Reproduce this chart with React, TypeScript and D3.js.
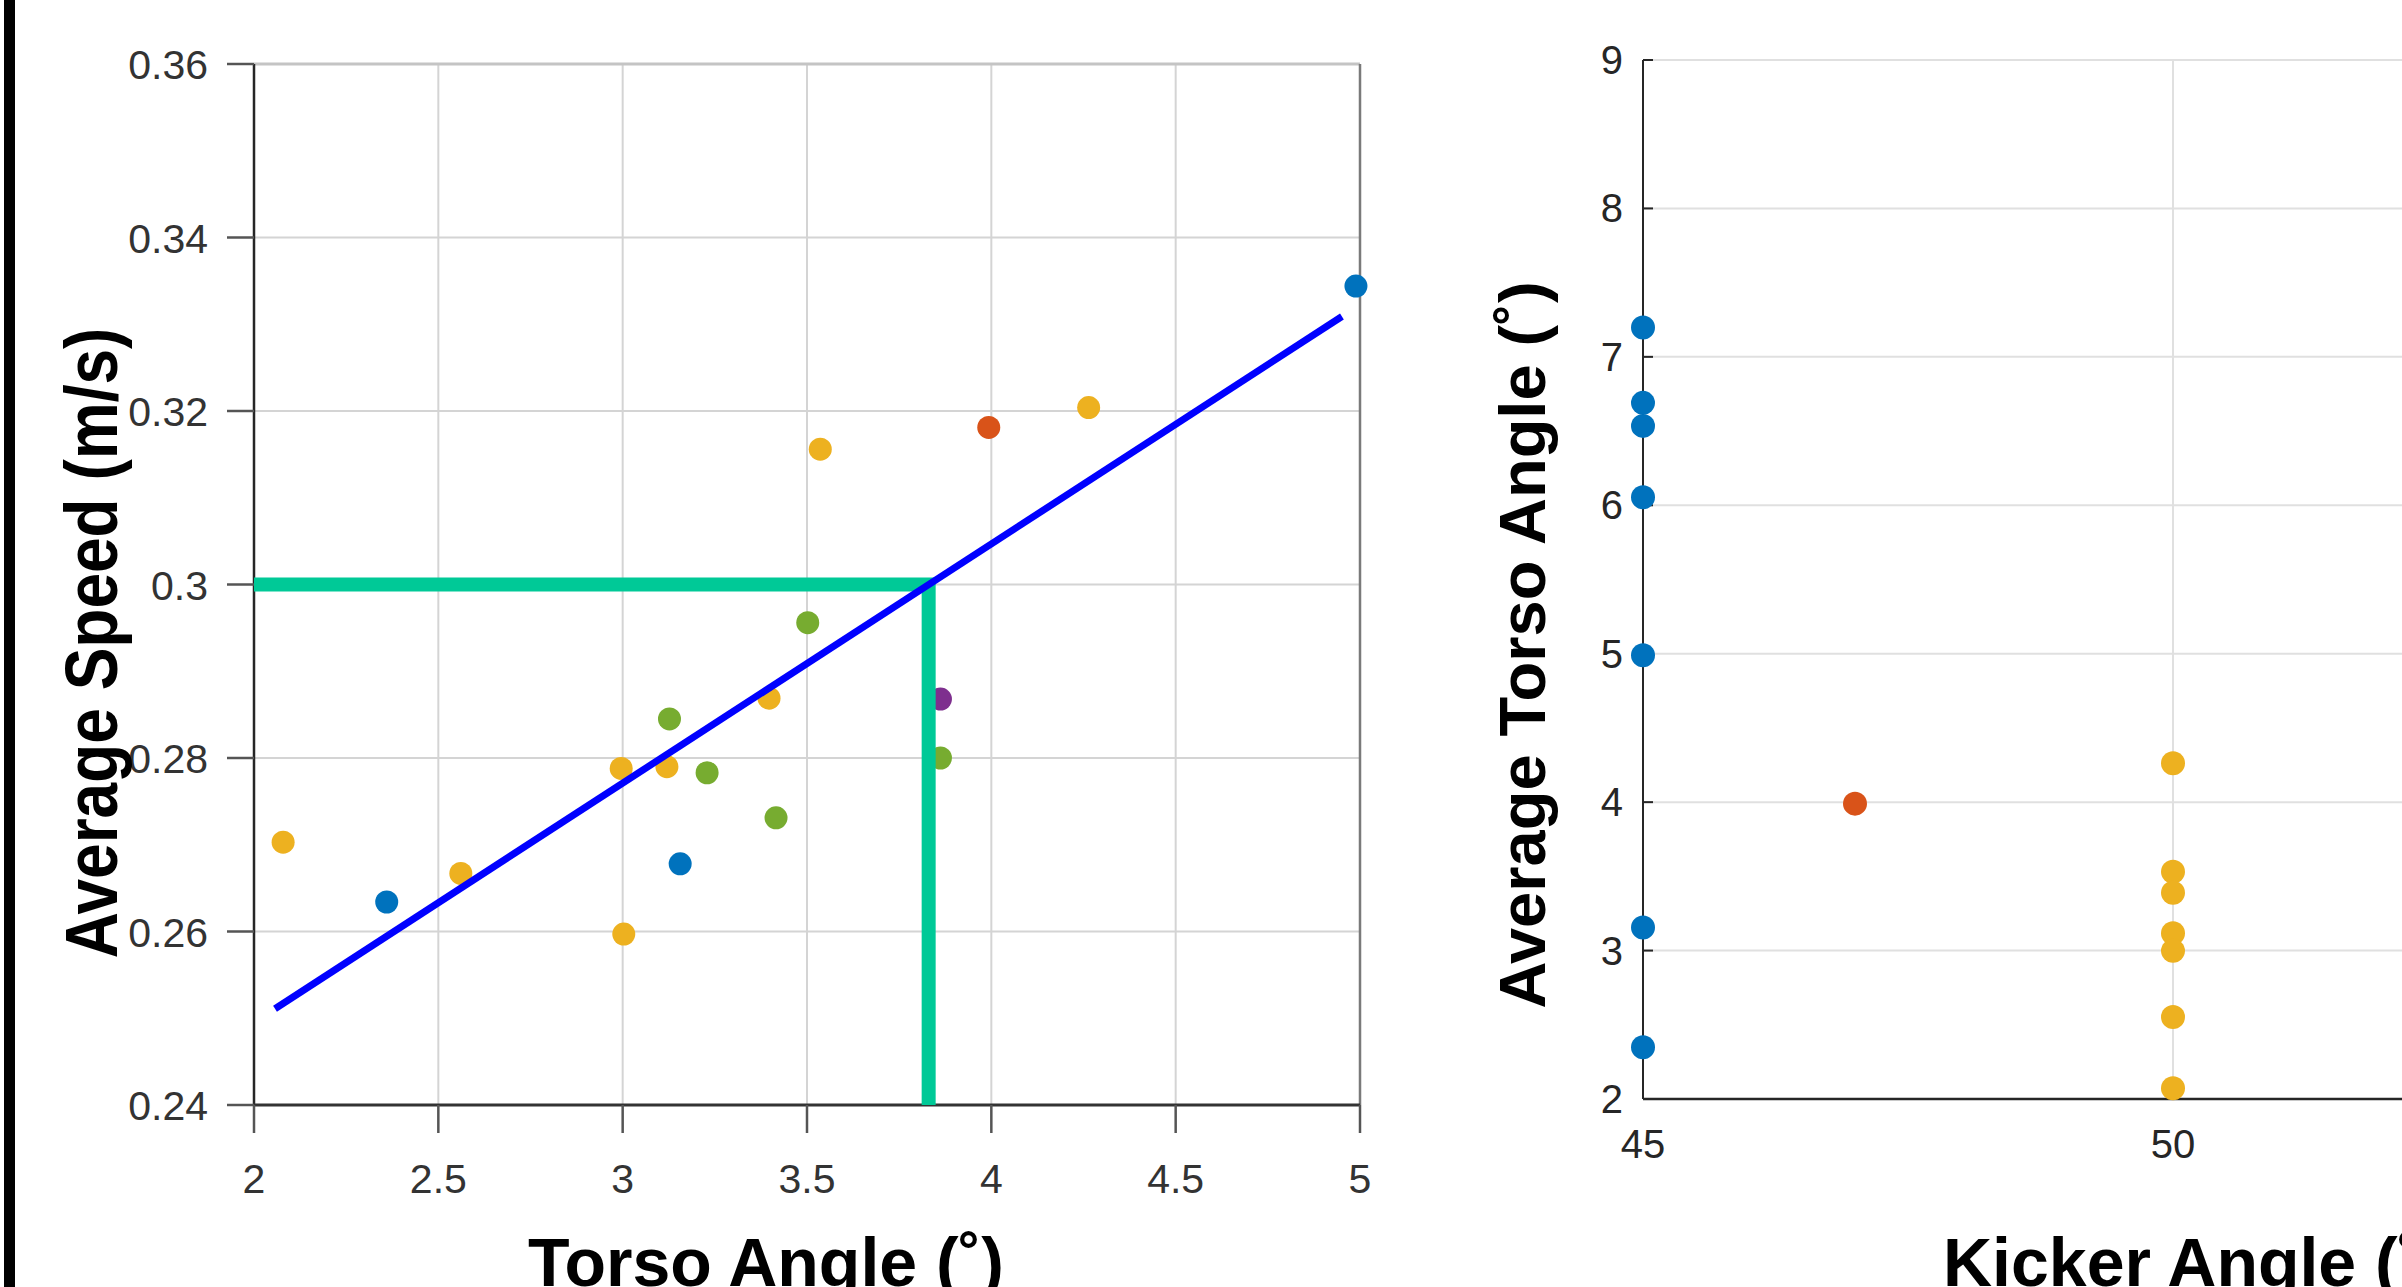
import { useEffect, useRef } from 'react';
import * as d3 from 'd3';

// left panel: torso angle (deg) vs average speed (m/s), colour = kicker group
const torsoAngle = [2.079, 2.36, 2.561, 2.996, 3.003, 3.12, 3.127, 3.156, 3.229, 3.397, 3.416, 3.502, 3.536, 3.862, 3.862, 3.993, 4.264, 4.989];
const avgSpeed = [0.2703, 0.2634, 0.2667, 0.2788, 0.2597, 0.279, 0.2845, 0.2678, 0.2783, 0.2869, 0.2731, 0.2956, 0.3156, 0.2868, 0.28, 0.3181, 0.3204, 0.3344];
const speedGroup = [2, 0, 2, 2, 2, 2, 4, 0, 4, 2, 4, 4, 2, 3, 4, 1, 2, 0];

// linear fit drawn over the left panel
const fitTorso = [2.057, 4.951];
const fitSpeed = [0.2511, 0.3309];

// target speed and the torso angle that gives it
const targetSpeed = 0.3;
const targetTorso = 3.83;

// right panel: kicker angle (deg) vs average torso angle (deg)
const kickerAngle = [45, 45, 45, 45, 45, 45, 45, 47, 50, 50, 50, 50, 50, 50, 50];
const avgTorso = [7.198, 6.69, 6.535, 6.054, 4.989, 3.155, 2.348, 3.99, 4.262, 3.531, 3.389, 3.117, 2.998, 2.553, 2.073];
const kickerGroup = [0, 0, 0, 0, 0, 0, 0, 1, 2, 2, 2, 2, 2, 2, 2];

const speedTicks = [0.24, 0.26, 0.28, 0.3, 0.32, 0.34, 0.36];
const torsoTicks = [2, 2.5, 3, 3.5, 4, 4.5, 5];
const avgTorsoTicks = [2, 3, 4, 5, 6, 7, 8, 9];
const kickerTicks = [45, 50, 55];

const groupColors = ['#0072BD', '#D95319', '#EDB120', '#7E2F8E', '#77AC30'];

const W = 2402;
const H = 1287;
const tickFont = '"Liberation Sans", Arial, Helvetica, sans-serif';
const titleFont = '"Liberation Sans", Arial, sans-serif';

export default function App() {
  const ref = useRef<SVGSVGElement>(null);

  useEffect(() => {
    const svg = d3.select(ref.current);
    svg.selectAll('*').remove();

    svg.append('rect').attr('width', W).attr('height', H).attr('fill', 'white');
    // black strip on the left edge
    svg.append('rect').attr('x', 4).attr('y', 0).attr('width', 11).attr('height', H).attr('fill', 'black');

    const color = d3.scaleOrdinal<number, string>().domain([0, 1, 2, 3, 4]).range(groupColors);

    // ---------- left panel ----------
    const x1 = d3.scaleLinear().domain([2, 5]).range([254, 1360]);
    const y1 = d3.scaleLinear().domain([0.24, 0.36]).range([1105, 64]);
    const g1 = svg.append('g');

    // grid
    g1.selectAll('line.vg')
      .data(torsoTicks.slice(1, -1))
      .enter().append('line')
      .attr('x1', d => x1(d)).attr('x2', d => x1(d))
      .attr('y1', y1(0.36)).attr('y2', y1(0.24))
      .attr('stroke', '#d4d4d4').attr('stroke-width', 2);
    g1.selectAll('line.hg')
      .data(speedTicks.slice(1, -1))
      .enter().append('line')
      .attr('x1', x1(2)).attr('x2', x1(5))
      .attr('y1', d => y1(d)).attr('y2', d => y1(d))
      .attr('stroke', '#d4d4d4').attr('stroke-width', 2);

    // box
    g1.append('line').attr('x1', x1(2)).attr('x2', x1(5)).attr('y1', y1(0.36)).attr('y2', y1(0.36))
      .attr('stroke', '#c4c4c4').attr('stroke-width', 3);
    g1.append('line').attr('x1', x1(5)).attr('x2', x1(5)).attr('y1', y1(0.36)).attr('y2', y1(0.24))
      .attr('stroke', '#7a7a7a').attr('stroke-width', 2.5);
    g1.append('line').attr('x1', x1(2)).attr('x2', x1(2)).attr('y1', y1(0.36)).attr('y2', y1(0.24))
      .attr('stroke', '#262626').attr('stroke-width', 2.5);
    g1.append('line').attr('x1', x1(2)).attr('x2', x1(5)).attr('y1', y1(0.24)).attr('y2', y1(0.24))
      .attr('stroke', '#333').attr('stroke-width', 3);

    // outward ticks and labels
    g1.selectAll('line.yt')
      .data(speedTicks)
      .enter().append('line')
      .attr('x1', x1(2) - 27).attr('x2', x1(2))
      .attr('y1', d => y1(d)).attr('y2', d => y1(d))
      .attr('stroke', '#555').attr('stroke-width', 2.5);
    g1.selectAll('text.yl')
      .data(speedTicks)
      .enter().append('text')
      .attr('x', 208).attr('y', d => y1(d) + 15)
      .attr('text-anchor', 'end')
      .attr('font-family', tickFont).attr('font-size', 41).attr('fill', '#333')
      .text(d => String(+d.toFixed(2)));
    g1.selectAll('line.xt')
      .data(torsoTicks)
      .enter().append('line')
      .attr('x1', d => x1(d)).attr('x2', d => x1(d))
      .attr('y1', y1(0.24)).attr('y2', y1(0.24) + 28)
      .attr('stroke', '#555').attr('stroke-width', 2.5);
    g1.selectAll('text.xl')
      .data(torsoTicks)
      .enter().append('text')
      .attr('x', d => x1(d)).attr('y', 1193)
      .attr('text-anchor', 'middle')
      .attr('font-family', tickFont).attr('font-size', 41).attr('fill', '#333')
      .text(d => String(d));

    // points
    g1.selectAll('circle')
      .data(torsoAngle.map((t, i) => ({ t, s: avgSpeed[i], g: speedGroup[i] })))
      .enter().append('circle')
      .attr('cx', d => x1(d.t)).attr('cy', d => y1(d.s))
      .attr('r', 11.5)
      .attr('fill', d => color(d.g));

    // target guide (green)
    g1.append('path')
      .attr('d', d3.line<[number, number]>()([
        [x1(2), y1(targetSpeed)],
        [x1(targetTorso), y1(targetSpeed)],
        [x1(targetTorso), y1(0.24)],
      ]))
      .attr('fill', 'none').attr('stroke', '#00C997').attr('stroke-width', 14)
      .attr('stroke-linejoin', 'miter');

    // fit line
    g1.append('line')
      .attr('x1', x1(fitTorso[0])).attr('y1', y1(fitSpeed[0]))
      .attr('x2', x1(fitTorso[1])).attr('y2', y1(fitSpeed[1]))
      .attr('stroke', '#0000FF').attr('stroke-width', 7);

    g1.append('text')
      .attr('x', 528).attr('y', 1286)
      .attr('font-family', titleFont).attr('font-weight', 'bold').attr('font-size', 68).attr('fill', 'black')
      .text('Torso Angle (˚)');
    g1.append('text')
      .attr('transform', 'translate(117,643) rotate(-90) scale(1,1.15)')
      .attr('text-anchor', 'middle')
      .attr('font-family', titleFont).attr('font-weight', 'bold').attr('font-size', 64).attr('fill', 'black')
      .text('Average Speed (m/s)');

    // ---------- right panel ----------
    const x2 = d3.scaleLinear().domain([45, 55]).range([1643, 2703]);
    const y2 = d3.scaleLinear().domain([2, 9]).range([1099, 60]);
    const g2 = svg.append('g');

    g2.selectAll('line.vg')
      .data(kickerTicks.slice(1))
      .enter().append('line')
      .attr('x1', d => x2(d)).attr('x2', d => x2(d))
      .attr('y1', y2(9)).attr('y2', y2(2))
      .attr('stroke', '#e0e0e0').attr('stroke-width', 2);
    g2.selectAll('line.hg')
      .data(avgTorsoTicks.slice(1))
      .enter().append('line')
      .attr('x1', x2(45)).attr('x2', x2(55))
      .attr('y1', d => y2(d)).attr('y2', d => y2(d))
      .attr('stroke', '#e0e0e0').attr('stroke-width', 2);

    g2.append('line').attr('x1', x2(45)).attr('x2', x2(45)).attr('y1', y2(9)).attr('y2', y2(2))
      .attr('stroke', '#262626').attr('stroke-width', 2);
    g2.append('line').attr('x1', x2(45)).attr('x2', x2(55)).attr('y1', y2(2)).attr('y2', y2(2))
      .attr('stroke', '#262626').attr('stroke-width', 2.5);

    // inward ticks
    g2.selectAll('line.yt')
      .data(avgTorsoTicks)
      .enter().append('line')
      .attr('x1', x2(45)).attr('x2', x2(45) + 10)
      .attr('y1', d => y2(d)).attr('y2', d => y2(d))
      .attr('stroke', '#262626').attr('stroke-width', 2);
    g2.selectAll('line.xt')
      .data(kickerTicks)
      .enter().append('line')
      .attr('x1', d => x2(d)).attr('x2', d => x2(d))
      .attr('y1', y2(2)).attr('y2', y2(2) - 10)
      .attr('stroke', '#262626').attr('stroke-width', 2);

    g2.selectAll('text.yl')
      .data(avgTorsoTicks)
      .enter().append('text')
      .attr('x', 1623).attr('y', d => y2(d) + 14)
      .attr('text-anchor', 'end')
      .attr('font-family', tickFont).attr('font-size', 40).attr('fill', '#262626')
      .text(d => String(d));
    g2.selectAll('text.xl')
      .data(kickerTicks)
      .enter().append('text')
      .attr('x', d => x2(d)).attr('y', 1158)
      .attr('text-anchor', 'middle')
      .attr('font-family', tickFont).attr('font-size', 40).attr('fill', '#262626')
      .text(d => String(d));

    g2.selectAll('circle')
      .data(kickerAngle.map((k, i) => ({ k, t: avgTorso[i], g: kickerGroup[i] })))
      .enter().append('circle')
      .attr('cx', d => x2(d.k)).attr('cy', d => y2(d.t))
      .attr('r', 12)
      .attr('fill', d => color(d.g));

    g2.append('text')
      .attr('x', 1943).attr('y', 1286)
      .attr('font-family', titleFont).attr('font-weight', 'bold').attr('font-size', 68).attr('fill', 'black')
      .text('Kicker Angle (˚)');
    g2.append('text')
      .attr('transform', 'translate(1545,645) rotate(-90)')
      .attr('text-anchor', 'middle')
      .attr('font-family', titleFont).attr('font-weight', 'bold').attr('font-size', 65).attr('fill', 'black')
      .text('Average Torso Angle (˚)');
  }, []);

  return (
    <svg
      ref={ref}
      width={W}
      height={H}
      style={{ position: 'fixed', left: 0, top: 0, display: 'block' }}
    />
  );
}
